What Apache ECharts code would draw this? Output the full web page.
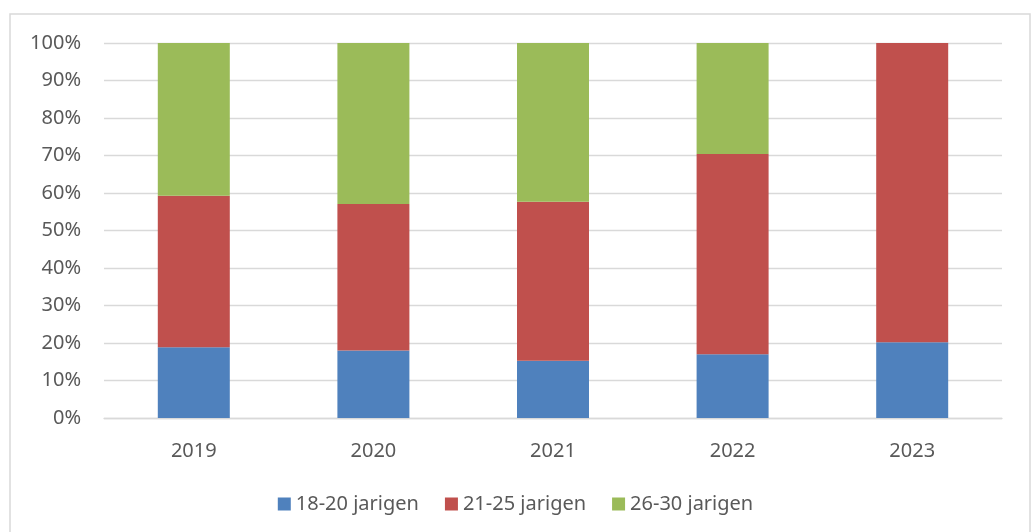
<!DOCTYPE html>
<html>
<head>
<meta charset="utf-8">
<script src="https://cdn.jsdelivr.net/npm/echarts@6/dist/echarts.min.js"></script>
<style>
html,body{margin:0;padding:0;background:#fff;}
#chart{width:1031px;height:532px;}
</style>
</head>
<body>
<div id="chart"></div>
<script>
const categories = ['2019', '2020', '2021', '2022', '2023'];
const seriesNames = ['18-20 jarigen', '21-25 jarigen', '26-30 jarigen'];
const age18to20 = [18.9, 18.0, 15.3, 17.0, 20.2];
const age21to25 = [40.4, 39.1, 42.4, 53.4, 79.8];
const age26to30 = [40.7, 42.9, 42.3, 29.6, 0];
const colors = ['#4f81bd', '#c0504d', '#9bbb59'];

const chart = echarts.init(document.getElementById('chart'));
const font = '"Noto Sans", sans-serif';
const textColor = '#595959';

function barSeries(name, data, color) {
  return {
    name: name,
    type: 'bar',
    stack: 'total',
    data: data,
    barWidth: 72,
    itemStyle: { color: color },
    emphasis: { disabled: true }
  };
}

chart.setOption({
  animation: false,
  backgroundColor: '#ffffff',
  graphic: [{
    type: 'rect',
    shape: { x: 10, y: 14, width: 1020, height: 540 },
    style: { fill: 'none', stroke: '#d9d9d9', lineWidth: 1.5 },
    silent: true
  }],
  grid: { left: 104, right: 29, top: 43, bottom: 114, containLabel: false },
  legend: {
    data: seriesNames,
    bottom: 13,
    left: 'center',
    itemWidth: 13,
    itemHeight: 13,
    itemGap: 26,
    icon: 'rect',
    textStyle: { fontFamily: font, fontSize: 20, color: textColor, padding: [0, 0, 0, 0] }
  },
  xAxis: {
    type: 'category',
    data: categories,
    axisLine: { show: true, lineStyle: { color: '#d9d9d9', width: 1.3 } },
    axisTick: { show: false },
    axisLabel: { fontFamily: font, fontSize: 20, color: textColor, margin: 23 }
  },
  yAxis: {
    type: 'value',
    min: 0,
    max: 100,
    interval: 10,
    axisLine: { show: false },
    axisTick: { show: false },
    splitLine: { lineStyle: { color: '#d9d9d9', width: 1.3 } },
    axisLabel: { fontFamily: font, fontSize: 20, color: textColor, margin: 23, formatter: '{value}%' }
  },
  series: [
    barSeries(seriesNames[0], age18to20, colors[0]),
    barSeries(seriesNames[1], age21to25, colors[1]),
    barSeries(seriesNames[2], age26to30, colors[2])
  ]
});
</script>
</body>
</html>
